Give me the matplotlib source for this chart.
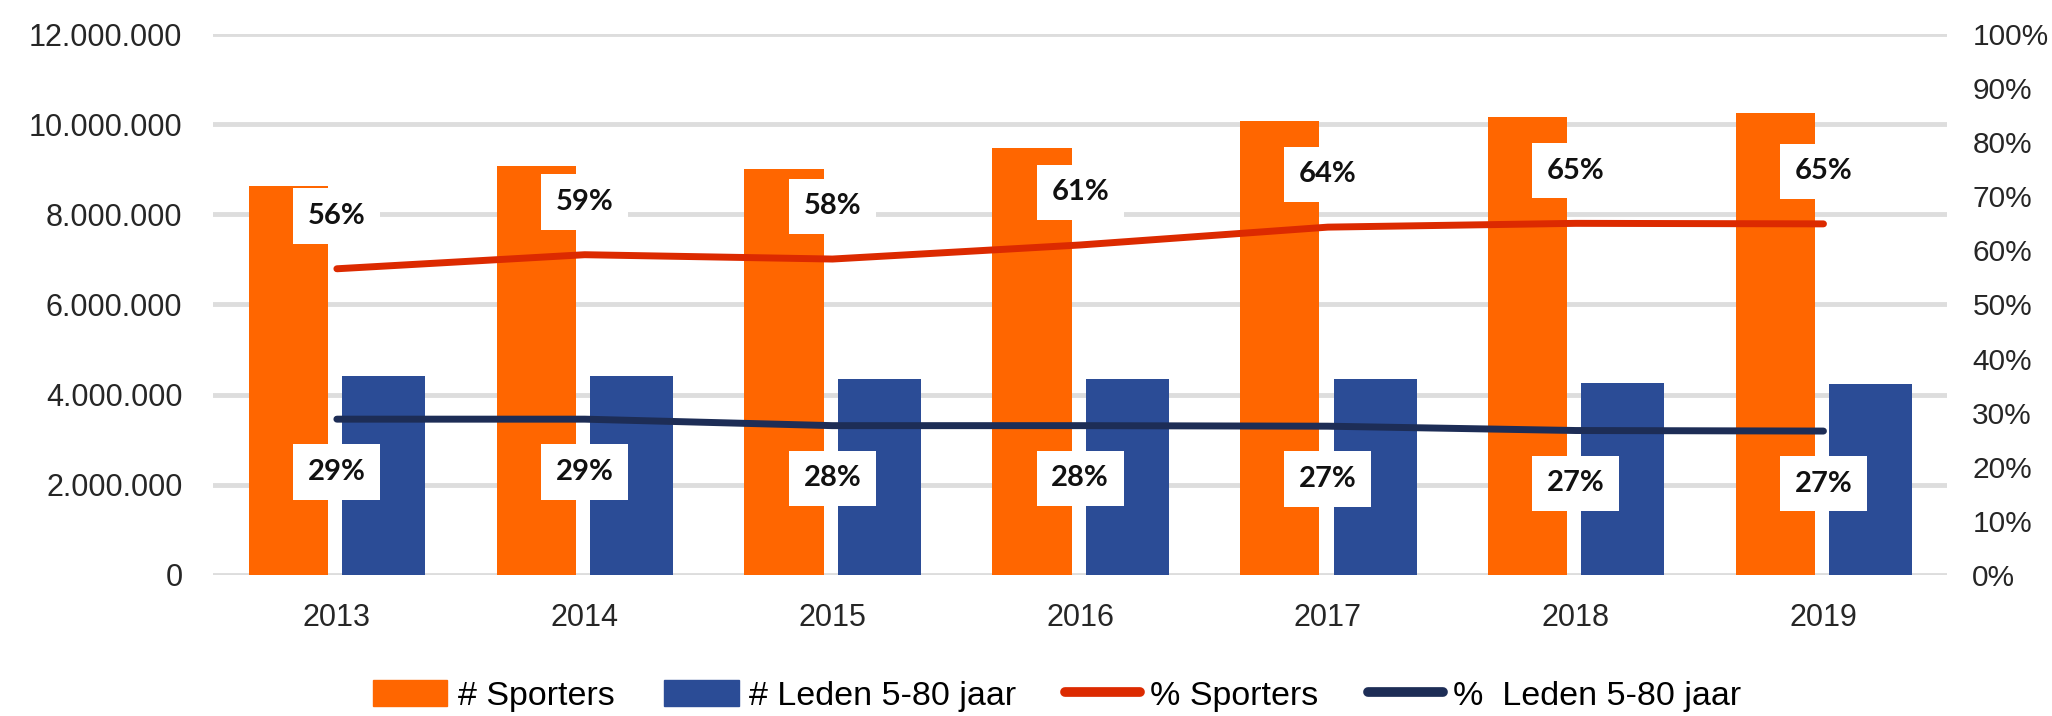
import matplotlib
matplotlib.use("Agg")
import matplotlib.pyplot as plt
from matplotlib.patches import Patch
from matplotlib.lines import Line2D

years = ["2013", "2014", "2015", "2016", "2017", "2018", "2019"]
sporters = [8620000, 9080000, 9010000, 9470000, 10080000, 10170000, 10250000]
leden = [4410000, 4410000, 4340000, 4340000, 4340000, 4250000, 4240000]
pct_sporters = [56.6, 59.2, 58.4, 61.0, 64.3, 65.0, 64.9]
pct_leden = [28.8, 28.8, 27.6, 27.6, 27.5, 26.7, 26.6]
lbl_sporters = ["56%", "59%", "58%", "61%", "64%", "65%", "65%"]
lbl_leden = ["29%", "29%", "28%", "28%", "27%", "27%", "27%"]

c_orange = "#FF6600"
c_blue = "#2B4C96"
c_red = "#DC2A00"
c_navy = "#1D2D56"
c_grid = "#DDDDDD"
c_text = "#262626"

plt.rcParams["font.family"] = ["Liberation Sans", "DejaVu Sans"]

fig = plt.figure(figsize=(20.52, 7.16), dpi=100)
ax = fig.add_axes([0.1038, 0.197, 0.8452, 0.7555])
x = list(range(len(years)))

ax.bar([i - 0.195 for i in x], sporters, width=0.32, color=c_orange, zorder=2)
ax.bar([i + 0.19 for i in x], leden, width=0.335, color=c_blue, zorder=2)

ax.set_ylim(0, 12000000)
ax.set_xlim(-0.5, 6.5)
ax.set_yticks(range(0, 12000001, 2000000))
ax.set_yticklabels(["{:,}".format(v).replace(",", ".") for v in range(0, 12000001, 2000000)])
ax.set_xticks(x)
ax.set_xticklabels(years)
ax.yaxis.grid(True, color=c_grid, linewidth=3.5, zorder=0)
ax.set_axisbelow(True)
ax.tick_params(axis="y", length=0, pad=22, labelsize=22, labelcolor=c_text)
ax.tick_params(axis="x", length=0, pad=20, labelsize=22, labelcolor=c_text)
for s in ax.spines.values():
    s.set_visible(False)

ax2 = ax.twinx()
ax2.set_ylim(0, 100)
ax2.set_yticks(range(0, 101, 10))
ax2.set_yticklabels(["{}%".format(v) for v in range(0, 101, 10)])
ax2.tick_params(axis="y", length=0, pad=18, labelsize=21.5, labelcolor=c_text)
for s in ax2.spines.values():
    s.set_visible(False)

ax2.plot(x, pct_sporters, color=c_red, linewidth=5, solid_capstyle="round", zorder=3)
ax2.plot(x, pct_leden, color=c_navy, linewidth=5, solid_capstyle="round", zorder=3)

box = dict(boxstyle="square,pad=0.5", fc="white", ec="none")
for i in x:
    ax2.annotate(lbl_sporters[i], (i, pct_sporters[i]), xytext=(0, 38),
                 textcoords="offset points", ha="center", va="center",
                 fontsize=21, fontweight="bold", family=["Lato", "DejaVu Sans"],
                 color="#111111", bbox=box, zorder=4)
    ax2.annotate(lbl_leden[i], (i, pct_leden[i]), xytext=(0, -38),
                 textcoords="offset points", ha="center", va="center",
                 fontsize=21, fontweight="bold", family=["Lato", "DejaVu Sans"],
                 color="#111111", bbox=box, zorder=4)

handles = [
    Patch(color=c_orange, label="# Sporters"),
    Patch(color=c_blue, label="# Leden 5-80 jaar"),
    Line2D([0], [0], color=c_red, linewidth=7, solid_capstyle="round", label="% Sporters"),
    Line2D([0], [0], color=c_navy, linewidth=7, solid_capstyle="round", label="%  Leden 5-80 jaar"),
]
fig.legend(handles=handles, loc="center", bbox_to_anchor=(0.515, 0.028), ncol=4,
           frameon=False, handlelength=2.2, handleheight=0.8,
           handletextpad=0.3, columnspacing=1.45,
           prop={"family": ["Liberation Sans", "DejaVu Sans"], "size": 24.5})

fig.savefig("out.png", dpi=100)
